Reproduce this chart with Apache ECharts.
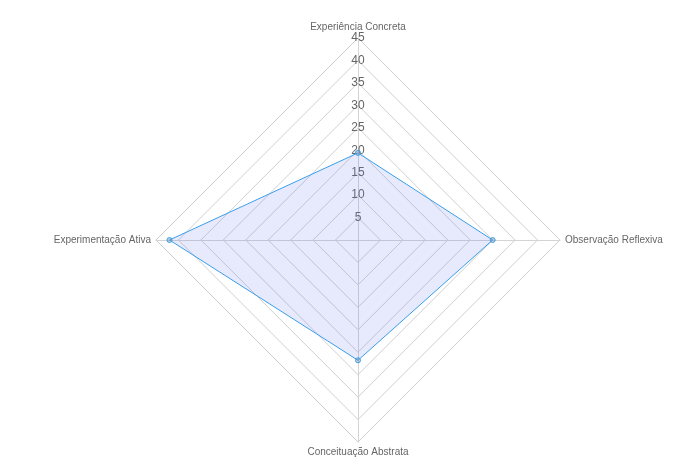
<!DOCTYPE html>
<html>
<head>
<meta charset="utf-8">
<script src="https://cdn.jsdelivr.net/npm/echarts@6/dist/echarts.min.js"></script>
<style>html,body{margin:0;padding:0;background:#fff}#c{width:679px;height:470px}</style>
</head>
<body>
<div id="c"></div>
<script>
// indicators in ECharts order (first at top, then counter-clockwise)
const indicatorNames = ['Experiência Concreta', 'Experimentação Ativa', 'Conceituação Abstrata', 'Observação Reflexiva'];
const values = [19.4, 42, 26.8, 30];
const axisMax = 45;
const tickStep = 5;

const font = 'Liberation Sans, Arial, Helvetica, sans-serif';
const chart = echarts.init(document.getElementById('c'), null, {renderer: 'canvas'});
const indicators = indicatorNames.map((n, i) => {
  const o = {name: n, min: 0, max: axisMax};
  if (i === 0) o.axisLabel = {show: true};
  return o;
});
chart.setOption({
  animation: false,
  radar: {
    center: [358, 240],
    radius: 202,
    startAngle: 90,
    shape: 'polygon',
    splitNumber: axisMax / tickStep,
    indicator: indicators,
    nameGap: 5,
    axisName: {color: '#666', fontSize: 10, fontFamily: font},
    axisLine: {show: true, lineStyle: {color: '#d4d4d4', width: 1}},
    splitLine: {lineStyle: {color: '#cfcfcf', width: 1}},
    splitArea: {show: false},
    axisTick: {show: false},
    axisLabel: {
      show: false, color: '#666', fontSize: 12, fontFamily: font,
      margin: 0, align: 'center', verticalAlign: 'middle',
      formatter: v => (v === 0 ? '' : String(v))
    }
  },
  series: [{
    type: 'radar',
    symbol: 'circle',
    symbolSize: 5,
    lineStyle: {color: '#36a2eb', width: 1},
    itemStyle: {color: 'rgba(140,140,160,0.45)', borderColor: '#36a2eb', borderWidth: 1},
    areaStyle: {color: 'rgba(100,110,245,0.22)'},
    data: [{value: values}]
  }]
});
</script>
</body>
</html>
